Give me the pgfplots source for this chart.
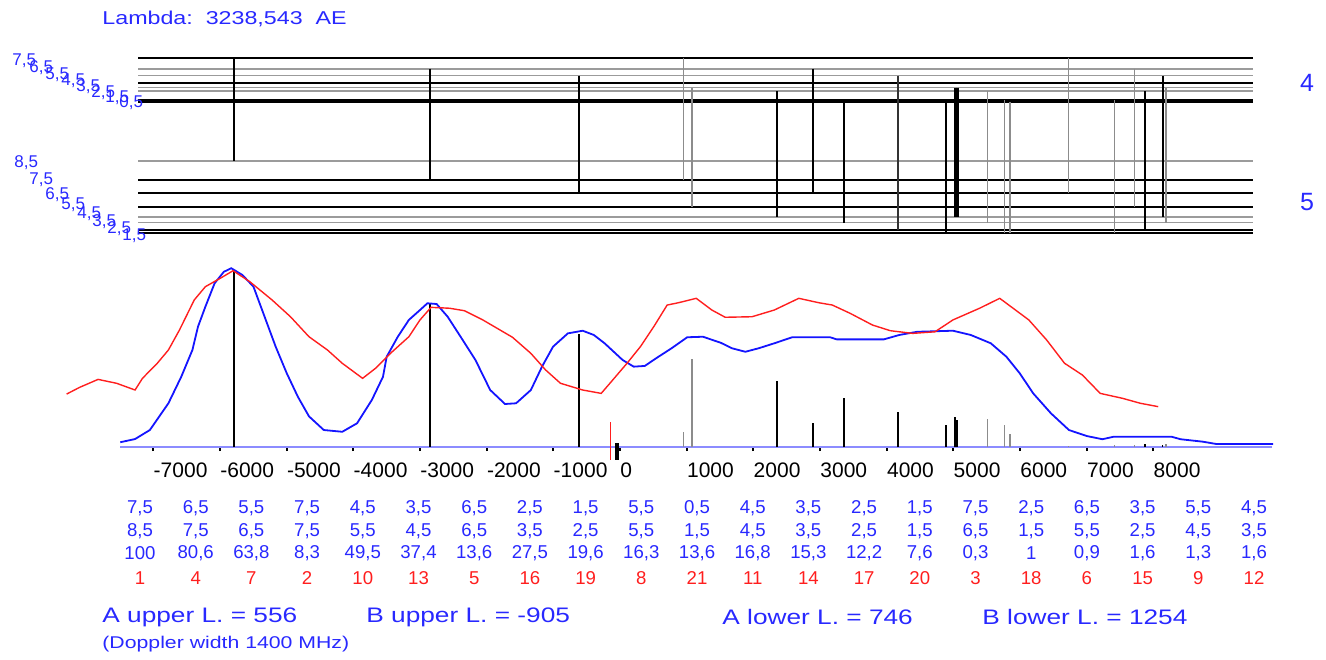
\documentclass[border=0pt]{standalone}
\usepackage{fontspec}
\setmainfont{Liberation Sans}
\newfontfamily\widefont{Liberation Sans}[FakeStretch=1.25]
\usepackage{pgfplots}
\pgfplotsset{compat=1.18}
\definecolor{tblue}{RGB}{40,40,255}
\definecolor{cblue}{RGB}{20,20,255}
\definecolor{lblue}{RGB}{140,140,255}
\definecolor{lgray}{RGB}{140,140,140}
\definecolor{hgray}{RGB}{155,155,155}
\definecolor{cred}{RGB}{255,30,30}
\begin{document}
\begin{tikzpicture}
\path[use as bounding box] (0,0) rectangle (663pt,-329.5pt);
% ---------------- upper level diagram ----------------
\begin{axis}[hide axis, scale only axis, width=613.33pt, height=95pt,
  xmin=-8400, xmax=10000, ymin=-240, ymax=-50,
  anchor=south west, at={(30pt,-120pt)}, clip=false]
% black levels
\foreach \yy in {-57.5,-82.5,-99.8,-101.8,-179.8,-193,-206.7,-230.3,-232.7}{
  \edef\tmp{\noexpand\addplot[black, line width=1pt, no marks] coordinates {(-7230,\yy) (9495,\yy)};}
  \tmp}
% gray levels
\foreach \yy in {-68.7,-75.5,-87.5,-91,-160.7,-216.7,-222.5}{
  \edef\tmp{\noexpand\addplot[hgray, line width=0.8pt, no marks] coordinates {(-7230,\yy) (9495,\yy)};}
  \tmp}
% black transitions
\addplot[black, line width=1pt] coordinates {(-5790,-57.5) (-5790,-160.7)};
\addplot[black, line width=1pt] coordinates {(-2850,-68.7) (-2850,-179.8)};
\addplot[black, line width=1pt] coordinates {(-612,-75.5) (-612,-193)};
\addplot[black, line width=1pt] coordinates {(2355,-91) (2355,-216.7)};
\addplot[black, line width=1pt] coordinates {(2896,-68.7) (2896,-193)};
\addplot[black, line width=1pt] coordinates {(3366,-99.8) (3366,-222.5)};
\addplot[black!80, line width=0.8pt] coordinates {(4170,-75.5) (4170,-230.3)};
\addplot[black, line width=1pt] coordinates {(4885,-101.8) (4885,-232.7)};
\addplot[black, line width=1.2pt] coordinates {(5032,-87.5) (5032,-216.7)};
\addplot[black, line width=1.2pt] coordinates {(5062,-87.5) (5062,-216.7)};
\addplot[black, line width=1pt] coordinates {(7872,-91) (7872,-230.3)};
\addplot[black, line width=1pt] coordinates {(8140,-75.5) (8140,-216.7)};
% gray transitions
\addplot[lgray, line width=0.6pt] coordinates {(955,-57.5) (955,-179.8)};
\addplot[lgray, line width=0.6pt] coordinates {(1081,-87.5) (1081,-206.7)};
\addplot[lgray, line width=0.6pt] coordinates {(5515,-91) (5515,-222.5)};
\addplot[lgray, line width=0.6pt] coordinates {(5763,-99.8) (5763,-232.7)};
\addplot[lgray, line width=0.6pt] coordinates {(5850,-101.8) (5850,-232.7)};
\addplot[lgray, line width=0.6pt] coordinates {(6733,-57.5) (6733,-193)};
\addplot[lgray, line width=0.6pt] coordinates {(7423,-99.8) (7423,-232.7)};
\addplot[lgray, line width=0.6pt] coordinates {(7719,-68.7) (7719,-206.7)};
\addplot[lgray, line width=0.6pt] coordinates {(8190,-87.5) (8190,-222.5)};
\end{axis}
% ---------------- lower spectrum ----------------
\begin{axis}[scale only axis, width=613.33pt, height=88.5pt,
  xmin=-8400, xmax=10000, ymin=0, ymax=100,
  anchor=south west, at={(30pt,-223.5pt)}, clip=false,
  axis line style={draw=none}, ytick=\empty, scaled x ticks=false,
  xtick={-7000,-6000,-5000,-4000,-3000,-2000,-1000,0,1000,2000,3000,4000,5000,6000,7000,8000},
  xticklabels={-7000,-6000,-5000,-4000,-3000,-2000,-1000,0,1000,2000,3000,4000,5000,6000,7000,8000},
  xtick pos=left, xticklabel pos=left, tick align=outside, major tick length=2pt,
  tick style={black, line width=1pt},
  xticklabel style={anchor=north west, inner xsep=0pt, yshift=-2.5pt, font=\fontsize{10.5}{12}\selectfont}]
\addplot[lblue, line width=1.2pt] coordinates {(-7500,0) (9780,0)};
% sticks
\addplot[black, line width=1pt, ycomb, no marks] coordinates {(-5790,100) (-2850,80.6) (-612,63.8) (2355,37.4) (2896,13.6) (3366,27.5) (4170,19.6) (4885,12.6) (5032,16.8) (5062,15.3)};
\addplot[lgray, line width=0.6pt, ycomb, no marks] coordinates {(955,8.3) (1081,49.5) (5515,15.6) (5763,12.2) (5850,7.6) (6733,0.3) (7423,1) (7719,0.9) (8190,1.6)};
\addplot[black, line width=0.8pt, ycomb, no marks] coordinates {(7872,1.6) (8140,1.3)};
% markers near zero
\addplot[cred, line width=0.6pt] coordinates {(-144,-7.3) (-144,14.1)};
\addplot[black, line width=2pt] coordinates {(-52,-7.3) (-52,2)};
% blue curve
\addplot[cblue, line width=0.9pt, no marks] coordinates {
(-7496,2.7) (-7274,4.5) (-7052,9.6) (-6774,24.7) (-6581,39.7) (-6414,54.8) (-6330,68.0) (-6219,79.3) (-6081,92.5) (-5942,99.0) (-5831,101.0) (-5664,97.2) (-5498,90.6) (-5331,73.6) (-5165,56.7) (-4998,41.6) (-4832,28.4) (-4665,17.3) (-4443,9.6) (-4166,8.6) (-3944,13.4) (-3722,26.6) (-3555,39.7) (-3500,51.0) (-3333,62.3) (-3167,71.8) (-3000,77.4) (-2889,81.2) (-2751,80.8) (-2585,73.6) (-2391,62.3) (-2169,49.2) (-1947,32.2) (-1725,24.3) (-1559,24.7) (-1337,32.2) (-1170,45.4) (-1004,56.7) (-782,64.2) (-560,65.7) (-393,63.3) (-231,58.6) (38,49.2) (206,45.4) (372,45.8) (540,50.1) (774,55.8) (1008,62.0) (1244,62.3) (1511,58.9) (1679,55.8) (1880,53.8) (2081,55.8) (2315,58.6) (2582,62.0) (3152,62.0) (3252,60.8) (3956,60.8) (4190,63.3) (4457,65.1) (4994,65.7) (5261,63.3) (5562,58.6) (5796,51.0) (5997,41.6) (6198,30.3) (6465,19.0) (6734,9.6) (7002,6.2) (7236,4.4) (7404,5.8) (8274,5.8) (8408,4.4) (8744,3.0) (8945,1.7) (9795,1.7)};
% red curve
\addplot[cred, line width=0.7pt, no marks] coordinates {
(-8301,29.9) (-8106,33.7) (-7829,38.2) (-7551,36.0) (-7274,32.2) (-7163,38.8) (-6941,47.3) (-6774,54.8) (-6608,66.1) (-6386,83.1) (-6219,90.6) (-5997,95.3) (-5804,99.6) (-5553,93.4) (-5220,83.1) (-4943,73.6) (-4665,62.3) (-4388,54.8) (-4166,47.3) (-3861,38.8) (-3666,44.5) (-3444,52.9) (-3167,62.3) (-3000,71.8) (-2834,78.9) (-2556,78.4) (-2334,77.0) (-2058,71.8) (-1613,62.0) (-1337,52.9) (-1115,43.5) (-893,36.0) (-560,32.2) (-282,30.3) (-131,36.9) (105,47.3) (306,56.7) (507,68.0) (707,80.2) (875,81.5) (1143,84.0) (1377,77.4) (1578,73.3) (1980,73.6) (2315,77.4) (2682,84.0) (2984,81.5) (3185,80.2) (3453,75.5) (3788,68.9) (4056,65.7) (4391,64.2) (4725,65.1) (4994,71.8) (5394,78.4) (5696,84.0) (5864,79.3) (6132,71.8) (6399,60.5) (6668,47.3) (6935,40.7) (7203,30.3) (7538,27.5) (7806,24.7) (8073,22.8)};
\end{axis}
% ---------------- texts ----------------
\begin{scope}[x=0.5pt, y=-0.5pt]
\node[anchor=west, inner sep=0pt, text=tblue, font=\widefont\fontsize{9.3}{11}\selectfont] at (102,19) {Lambda:\ \ 3238,543\ \ AE};
\node[text=tblue, font=\fontsize{12.5}{14}\selectfont] at (1307,83) {4};
\node[text=tblue, font=\fontsize{12.5}{14}\selectfont] at (1307,202) {5};
\foreach \t/\xx/\yy in {{7,5}/12/61,{6,5}/29/68,{5,5}/45/75,{4,5}/61/81,{3,5}/76/87,{2,5}/91/93,{1,5}/105/98,{0,5}/119/103}
  \node[anchor=west, inner sep=0pt, text=tblue, font=\fontsize{8.5}{10}\selectfont] at (\xx,\yy) {\t};
\foreach \t/\xx/\yy in {{8,5}/14/163,{7,5}/29/180,{6,5}/45/195,{5,5}/61/205,{4,5}/77/214,{3,5}/92/222,{2,5}/107/229,{1,5}/122/236}
  \node[anchor=west, inner sep=0pt, text=tblue, font=\fontsize{8.5}{10}\selectfont] at (\xx,\yy) {\t};
% table
\foreach \t [count=\i from 0] in {{7,5},{6,5},{5,5},{7,5},{4,5},{3,5},{6,5},{2,5},{1,5},{5,5},{0,5},{4,5},{3,5},{2,5},{1,5},{7,5},{2,5},{6,5},{3,5},{5,5},{4,5}}
  \node[inner sep=0pt, text=tblue, font=\fontsize{9.3}{11}\selectfont] at ({140+55.7*\i},508) {\t};
\foreach \t [count=\i from 0] in {{8,5},{7,5},{6,5},{7,5},{5,5},{4,5},{6,5},{3,5},{2,5},{5,5},{1,5},{4,5},{3,5},{2,5},{1,5},{6,5},{1,5},{5,5},{2,5},{4,5},{3,5}}
  \node[inner sep=0pt, text=tblue, font=\fontsize{9.3}{11}\selectfont] at ({140+55.7*\i},531) {\t};
\foreach \t [count=\i from 0] in {{100},{80,6},{63,8},{8,3},{49,5},{37,4},{13,6},{27,5},{19,6},{16,3},{13,6},{16,8},{15,3},{12,2},{7,6},{0,3},{1},{0,9},{1,6},{1,3},{1,6}}
  \node[inner sep=0pt, text=tblue, font=\fontsize{9.3}{11}\selectfont] at ({140+55.7*\i},553) {\t};
\foreach \t [count=\i from 0] in {1,4,7,2,10,13,5,16,19,8,21,11,14,17,20,3,18,6,15,9,12}
  \node[inner sep=0pt, text=cred, font=\fontsize{9.3}{11}\selectfont] at ({140+55.7*\i},578) {\t};
% bottom
\node[anchor=west, inner sep=0pt, text=tblue, font=\widefont\fontsize{10.5}{12}\selectfont] at (102,617) {A upper L. = 556};
\node[anchor=west, inner sep=0pt, text=tblue, font=\widefont\fontsize{10.5}{12}\selectfont] at (366,617) {B upper L. = -905};
\node[anchor=west, inner sep=0pt, text=tblue, font=\widefont\fontsize{10.5}{12}\selectfont] at (722,617) {A lower L. = 746};
\node[anchor=west, inner sep=0pt, text=tblue, font=\widefont\fontsize{10.5}{12}\selectfont] at (982,617) {B lower L. = 1254};
\node[anchor=west, inner sep=0pt, text=tblue, font=\widefont\fontsize{8.5}{10}\selectfont] at (102,644) {(Doppler width 1400 MHz)};
\end{scope}
\end{tikzpicture}
\end{document}
